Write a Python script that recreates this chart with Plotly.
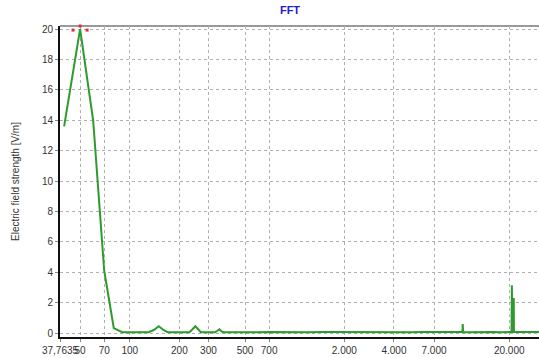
import plotly.graph_objects as go
import math

# ---- data ----
freq_hz = [40, 50, 60, 70, 80, 90, 100, 110, 120, 130, 140, 150, 160, 170, 180, 200,
           220, 230, 240, 250, 260, 270, 290, 310, 330, 340, 350, 360, 370, 400, 450,
           500, 600, 700, 800, 1000, 1200, 1500, 2000, 2500, 3000, 4000, 5000, 6000,
           7000, 8000, 9000, 10000, 10400, 10450, 10500, 11000, 12000, 14000, 16000,
           18000, 20000, 20650, 20750, 20850, 21250, 21300, 21350, 22000, 24000,
           27000, 30300]
field_vm = [13.6, 20.0, 14.0, 4.1, 0.33, 0.06, 0.05, 0.05, 0.05, 0.06, 0.2, 0.45, 0.2, 0.06, 0.05, 0.05,
            0.05, 0.06, 0.25, 0.45, 0.25, 0.06, 0.05, 0.05, 0.06, 0.15, 0.25, 0.1, 0.05, 0.06, 0.05,
            0.06, 0.05, 0.07, 0.06, 0.07, 0.06, 0.07, 0.06, 0.07, 0.06, 0.07, 0.06, 0.07,
            0.06, 0.07, 0.06, 0.07, 0.07, 0.6, 0.07, 0.06, 0.07, 0.06, 0.07,
            0.06, 0.07, 0.07, 3.15, 0.07, 0.07, 2.3, 0.07, 0.07, 0.06,
            0.07, 0.07]

peak_marker_hz = [45.3, 55.1, 50]
peak_marker_vm = [19.93, 19.93, 20.2]

x_tick_vals = [37.7635, 50, 70, 100, 200, 300, 500, 700, 2000, 4000, 7000, 20000]
x_tick_text = ["37,7635", "50", "70", "100", "200", "300", "500", "700",
               "2.000", "4.000", "7.000", "20.000"]
y_tick_vals = [0, 2, 4, 6, 8, 10, 12, 14, 16, 18, 20]

fig = go.Figure()
fig.add_trace(go.Scatter(x=freq_hz, y=field_vm, mode="lines",
                         line=dict(color="#2e9a2e", width=2), showlegend=False))
fig.add_trace(go.Scatter(x=peak_marker_hz, y=peak_marker_vm, mode="markers",
                         marker=dict(color="#e03030", size=3, symbol="square"),
                         cliponaxis=False, showlegend=False))

fig.update_layout(
    width=539, height=358,
    margin=dict(l=60, r=0, t=26, b=21, autoexpand=False),
    paper_bgcolor="white", plot_bgcolor="white",
    font=dict(family="Liberation Sans, Arial, sans-serif", size=10, color="#333333"),
    title=dict(text="<b>FFT</b>", x=290/539, xref="container", xanchor="center",
               y=1 - 10/358, yref="container", yanchor="middle",
               font=dict(size=11, color="#2020d0")),
    xaxis=dict(type="log", range=[math.log10(37.7635), math.log10(30300)],
               tickvals=x_tick_vals, ticktext=x_tick_text, tickangle=0,
               showgrid=True, gridcolor="#b0b0b0", griddash="dot", gridwidth=1,
               showline=True, linecolor="#111111", linewidth=2,
               ticks="outside", ticklen=3, tickcolor="#888888",
               tickfont=dict(size=10, color="#333333"), zeroline=False,
               automargin=False),
    yaxis=dict(range=[-0.26, 20.2], tickvals=y_tick_vals,
               showgrid=True, gridcolor="#b0b0b0", griddash="dot", gridwidth=1,
               showline=True, linecolor="#111111", linewidth=2,
               ticks="outside", ticklen=3, tickcolor="#888888",
               tickfont=dict(size=10, color="#333333"), zeroline=False,
               automargin=False,
               title=dict(text="Electric field strength [V/m]", standoff=20,
                          font=dict(size=10, color="#333333"))),
    shapes=[dict(type="line", xref="paper", yref="paper", x0=0, x1=1, y0=1, y1=1,
                 line=dict(color="#999999", width=2), layer="below")],
)

fig.write_html("out.html")
